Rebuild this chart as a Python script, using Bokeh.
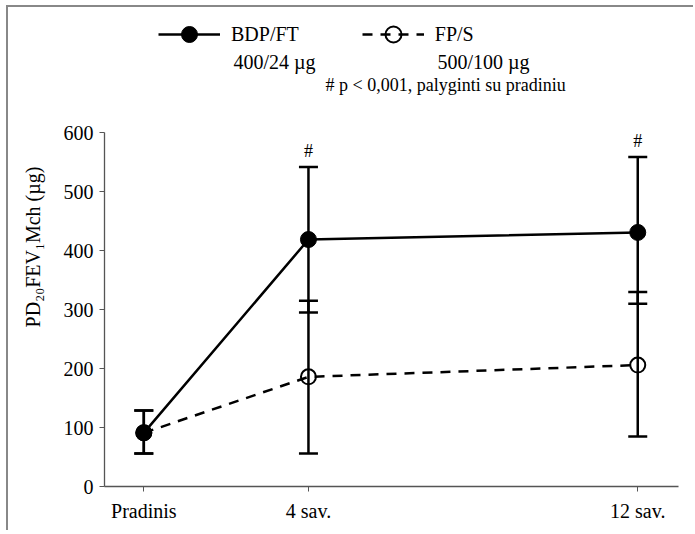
from bokeh.plotting import figure
from bokeh.models import (ColumnDataSource, Range1d, FixedTicker, Whisker, TeeHead,
                          Legend, LegendItem, Label)
from bokeh.core.properties import value
from bokeh.embed import file_html
from bokeh.resources import INLINE

# ---- data ----
weeks = [0, 4, 12]
tick_labels = ["Pradinis", "4 sav.", "12 sav."]
bdp_mean = [91, 419, 431]
bdp_lower = [56, 295, 310]
bdp_upper = [129, 542, 559]
fps_mean = [91, 186, 206]
fps_lower = [56, 56, 85]
fps_upper = [129, 315, 330]
sig_weeks = [4, 12]
sig_mark = ["#", "#"]
y_ticks = [0, 100, 200, 300, 400, 500, 600]
y_axis_max = 600
y_view_top = 812.6   # room above the axis for the key
series_names = ["BDP/FT", "FP/S"]
series_doses = ["400/24 µg", "500/100 µg"]

FONT = "Liberation Serif"

p = figure(width=687, height=525, output_backend="svg", toolbar_location=None,
           x_range=Range1d(-0.955, 12.99), y_range=Range1d(0, y_view_top),
           min_border_left=96, min_border_right=17, min_border_top=0,
           min_border_bottom=46,
           styles={"border-left": "2px solid #888", "border-top": "2px solid #888",
                   "margin-left": "6px", "margin-top": "5px"})
p.outline_line_color = None
p.grid.visible = False
p.background_fill_color = "white"

bdp = ColumnDataSource(dict(x=weeks, y=bdp_mean, lo=bdp_lower, up=bdp_upper))
fps = ColumnDataSource(dict(x=weeks, y=fps_mean, lo=fps_lower, up=fps_upper))

# FP/S
l2 = p.line("x", "y", source=fps, line_color="black", line_width=2.5, line_dash="10 8")
p.add_layout(Whisker(source=fps, base="x", upper="up", lower="lo", line_width=2.5,
                     upper_head=TeeHead(size=19, line_width=2.5),
                     lower_head=TeeHead(size=19, line_width=2.5)))
m2 = p.scatter("x", "y", source=fps, size=15, marker="circle", fill_alpha=0,
               line_color="black", line_width=2)

# BDP/FT
l1 = p.line("x", "y", source=bdp, line_color="black", line_width=2.5)
p.add_layout(Whisker(source=bdp, base="x", upper="up", lower="lo", line_width=2.5,
                     upper_head=TeeHead(size=19, line_width=2.5),
                     lower_head=TeeHead(size=19, line_width=2.5)))
m1 = p.scatter("x", "y", source=bdp, size=16, marker="circle", fill_color="black",
               line_color="black")

# significance marks
sig_y = [bdp_upper[weeks.index(w)] for w in sig_weeks]
p.text(x=sig_weeks, y=sig_y, text=sig_mark, text_align="center", text_baseline="bottom",
       y_offset=-6, text_font=value(FONT), text_font_size="18px", text_color="black")

# axes
p.xaxis.ticker = FixedTicker(ticks=weeks)
p.xaxis.major_label_overrides = {w: t for w, t in zip(weeks, tick_labels)}
p.yaxis.ticker = FixedTicker(ticks=y_ticks)
p.yaxis.bounds = (0, y_axis_max)
for ax in (p.xaxis, p.yaxis):
    ax.axis_line_color = "#555555"
    ax.axis_line_width = 1.3
    ax.major_tick_line_color = "#555555"
    ax.major_tick_in = 0
    ax.major_tick_out = 5
    ax.minor_tick_line_color = None
    ax.major_label_text_font = FONT
    ax.major_label_text_font_size = "20px"
    ax.major_label_text_color = "black"
p.xaxis.major_label_standoff = 8
p.yaxis.major_label_standoff = 6
p.yaxis.axis_label = "PD₂₀FEV₁Mch (µg)"
p.yaxis.axis_label_text_font = FONT
p.yaxis.axis_label_text_font_size = "20px"
p.yaxis.axis_label_text_font_style = "normal"
p.yaxis.axis_label_text_color = "black"
p.yaxis.axis_label_standoff = 17

legend = Legend(items=[LegendItem(label=series_names[0], renderers=[l1, m1]),
                       LegendItem(label=series_names[1], renderers=[l2, m2])],
                orientation="horizontal", location=(54, 432),
                glyph_width=62, glyph_height=40, label_standoff=11, spacing=63,
                padding=0, margin=0, border_line_color=None,
                background_fill_alpha=0,
                label_text_font=FONT, label_text_font_size="20px",
                label_text_color="black")
p.add_layout(legend, "center")

for xs, txt in zip([129, 333], series_doses):
    p.add_layout(Label(x=xs, y=425, x_units="screen", y_units="screen", text=txt,
                       text_baseline="middle", text_font=FONT,
                       text_font_size="20px", text_color="black"))

p.add_layout(Label(x=221, y=402, x_units="screen", y_units="screen",
                   text="# p < 0,001, palyginti su pradiniu", text_baseline="middle",
                   text_font=FONT, text_font_size="18px", text_color="black"))

open("out.html", "w").write(file_html(p, INLINE))
